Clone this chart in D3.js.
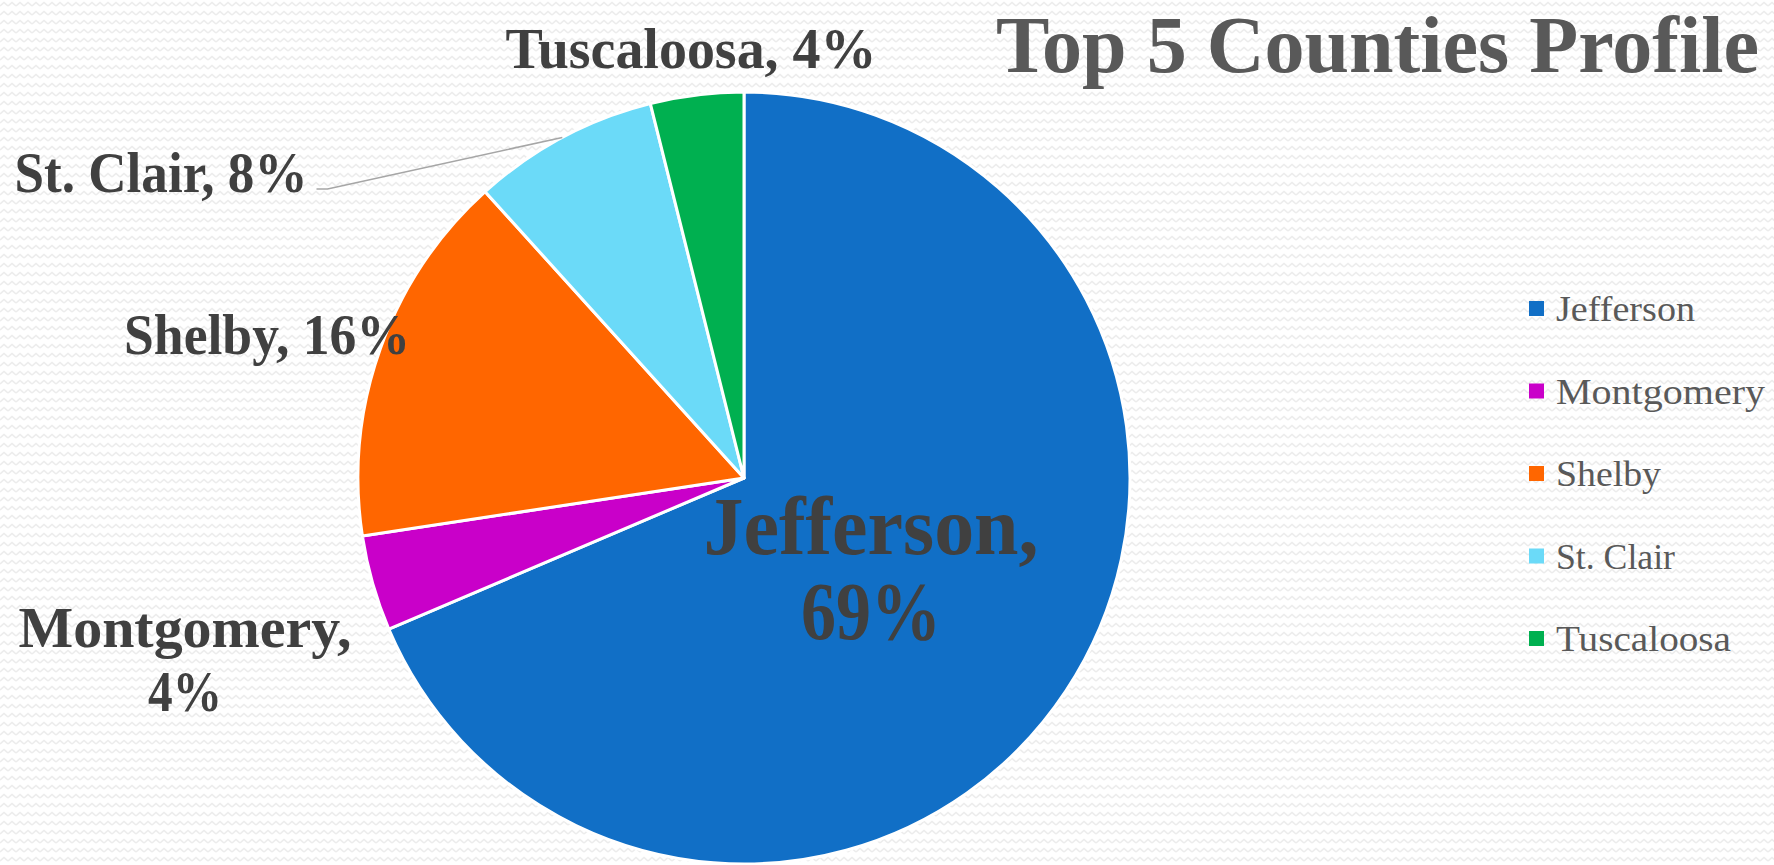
<!DOCTYPE html>
<html>
<head>
<meta charset="utf-8">
<script src="https://cdn.jsdelivr.net/npm/d3@7"></script>
<style>
  html, body { margin: 0; padding: 0; background: #ffffff; }
  svg { display: block; }
</style>
</head>
<body>
<svg id="chart" width="1774" height="865"></svg>
<script>
// County shares of the top five counties (percent)
const counties = ["Jefferson", "Montgomery", "Shelby", "St. Clair", "Tuscaloosa"];
const shares = [68.6, 4.0, 15.7, 7.8, 3.9];
const sliceColors = ["#116FC6", "#C900C9", "#FF6600", "#6BDAF8", "#00B050"];
const titleText = "Top 5 Counties Profile";

const W = 1774, H = 865;
const cx = 744, cy = 478, radius = 386;
const serif = "'Liberation Serif', 'DejaVu Serif', serif";

const svg = d3.select("#chart");

// faint zig-zag paper texture
const defs = svg.append("defs");
const pat = defs.append("pattern")
  .attr("id", "zigzag").attr("patternUnits", "userSpaceOnUse")
  .attr("width", 8).attr("height", 9);
pat.append("rect").attr("width", 8).attr("height", 9).attr("fill", "#ffffff");
pat.append("path").attr("d", "M0,6 L4,2.5 L8,6")
  .attr("fill", "none").attr("stroke", "#ececec").attr("stroke-width", 1.6);
svg.append("rect").attr("width", W).attr("height", H).attr("fill", "url(#zigzag)");

const data = counties.map((c, i) => ({ county: c, value: shares[i], color: sliceColors[i] }));
const total = d3.sum(shares);
const pct = d => Math.round(d.value / total * 100) + "%";

const pie = d3.pie().value(d => d.value).sort(null).startAngle(0).endAngle(2 * Math.PI);
const arcs = pie(data);
const arc = d3.arc().innerRadius(0).outerRadius(radius);

const g = svg.append("g").attr("transform", `translate(${cx},${cy})`);
g.selectAll("path.slice").data(arcs).join("path")
  .attr("class", "slice")
  .attr("d", arc)
  .attr("fill", d => d.data.color)
  .attr("stroke", "#ffffff")
  .attr("stroke-width", 3)
  .attr("stroke-linejoin", "round");

// helper: text with a fitted width
function fitText(sel, x, y, str, size, width, weight, fill, anchor) {
  const t = sel.append("text")
    .attr("x", x).attr("y", y)
    .attr("font-family", serif)
    .attr("font-size", size)
    .attr("font-weight", weight)
    .attr("fill", fill)
    .attr("text-anchor", anchor)
    .text(str);
  if (width) t.attr("textLength", width).attr("lengthAdjust", "spacingAndGlyphs");
  return t;
}

// data label placement, per slice: label lines and where they sit
const labelLayout = {
  "Jefferson":  { lines: d => [d.data.county + ",", pct(d)], x: 871, y: [554, 639], w: [335, 140], size: 82 },
  "Montgomery": { lines: d => [d.data.county + ",", pct(d)], x: 185, y: [647, 711], w: [333, 74], size: 58 },
  "Shelby":     { lines: d => [d.data.county + ", " + pct(d)], x: 267, y: [354], w: [286], size: 58 },
  "St. Clair":  { lines: d => [d.data.county + ", " + pct(d)], x: 161, y: [192], w: [293], size: 58, leader: true },
  "Tuscaloosa": { lines: d => [d.data.county + ", " + pct(d)], x: 691, y: [68], w: [371], size: 58 }
};

const labels = svg.append("g");
arcs.forEach(d => {
  const L = labelLayout[d.data.county];
  L.lines(d).forEach((s, i) => {
    fitText(labels, L.x, L.y[i], s, L.size, L.w[i], "bold", "#404040", "middle");
  });
  if (L.leader) {
    const mid = (d.startAngle + d.endAngle) / 2;
    const ex = cx + radius * Math.sin(mid);
    const ey = cy - radius * Math.cos(mid);
    const sx = L.x + L.w[0] / 2 + 9;
    const sy = L.y[0] - 3;
    svg.append("polyline")
      .attr("points", [[sx, sy], [sx + 11, sy], [ex, ey]].map(p => p.join(",")).join(" "))
      .attr("fill", "none")
      .attr("stroke", "#a6a6a6")
      .attr("stroke-width", 1.5);
  }
});

// title
fitText(svg, 1759, 72, titleText, 80, 763, "bold", "#595959", "end");

// legend
const legendWidths = { "Jefferson": 139, "Montgomery": 209, "Shelby": 105, "St. Clair": 119, "Tuscaloosa": 175 };
const legend = svg.append("g").attr("transform", "translate(1529,309)");
const legendRow = 82.5;
data.forEach((d, i) => {
  const row = legend.append("g").attr("transform", `translate(0,${i * legendRow})`);
  row.append("rect").attr("x", 0).attr("y", -8).attr("width", 15).attr("height", 15).attr("fill", d.color);
  fitText(row, 27, 12, d.county, 36, legendWidths[d.county], "normal", "#595959", "start");
});
</script>
</body>
</html>
